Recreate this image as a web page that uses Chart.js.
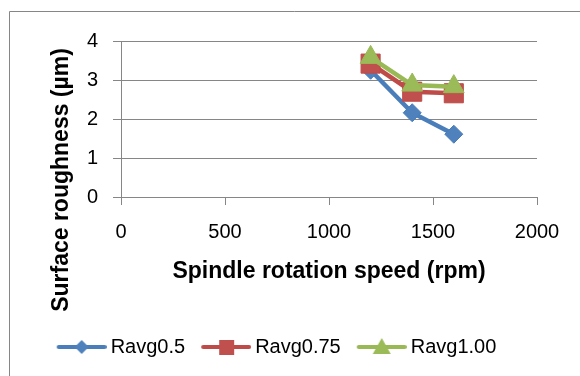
<!DOCTYPE html>
<html>
<head>
<meta charset="utf-8">
<script src="https://cdn.jsdelivr.net/npm/chart.js@4.4.1/dist/chart.umd.min.js"></script>
<style>
  html, body { margin: 0; padding: 0; background: #fff; }
</style>
</head>
<body>
<canvas id="grafico" width="580" height="376"></canvas>
<script>
// Dados
const rotacoes = [1200, 1400, 1600];
const ravg05 = [3.25, 2.16, 1.61];
const ravg075 = [3.42, 2.70, 2.66];
const ravg100 = [3.58, 2.87, 2.83];
const nomesSeries = ["Ravg0.5", "Ravg0.75", "Ravg1.00"];
const ticksX = [0, 500, 1000, 1500, 2000];
const ticksY = [0, 1, 2, 3, 4];
const tituloX = "Spindle rotation speed (rpm)";
const tituloY = "Surface roughness (µm)";

const corGrade = "#868686";
const fonte = "'Liberation Sans', Arial, sans-serif";
Chart.defaults.font.family = fonte;
Chart.defaults.color = "#000";

// Ícone da legenda: linha + marcador
function iconeLegenda(corLinha, corMarcador, estilo) {
  const c = document.createElement("canvas");
  c.width = 62;
  c.height = 26;
  const g = c.getContext("2d");
  g.strokeStyle = corLinha;
  g.lineWidth = 4;
  g.lineCap = "round";
  g.beginPath();
  g.moveTo(14, 13);
  g.lineTo(60, 13);
  g.stroke();
  g.fillStyle = corMarcador;
  g.beginPath();
  if (estilo === "rectRot") {
    g.moveTo(37, 6); g.lineTo(44, 13); g.lineTo(37, 20); g.lineTo(30, 13);
  } else if (estilo === "rect") {
    g.rect(30, 6, 15, 15);
  } else {
    g.moveTo(37, 4); g.lineTo(46, 20); g.lineTo(28, 20);
  }
  g.closePath();
  g.fill();
  return c;
}

function pontos(valores) {
  return rotacoes.map((x, i) => ({ x: x, y: valores[i] }));
}

const series = [
  { nome: nomesSeries[0], valores: ravg05, linha: "#4A7EBB", marcador: "#4F81BD", estilo: "rectRot", raio: 9, ordem: 3 },
  { nome: nomesSeries[1], valores: ravg075, linha: "#BE4B48", marcador: "#C0504D", estilo: "rect", raio: 13.5, ordem: 2 },
  { nome: nomesSeries[2], valores: ravg100, linha: "#98B954", marcador: "#9BBB59", estilo: "triangle", raio: 12, ordem: 1 },
];

const decoracao = {
  id: "decoracao",
  beforeDraw(chart) {
    const g = chart.ctx;
    g.save();
    g.fillStyle = "#fff";
    g.fillRect(0, 0, chart.width, chart.height);
    g.strokeStyle = corGrade;
    g.lineWidth = 1;
    g.beginPath();
    g.moveTo(9.5, chart.height);
    g.lineTo(9.5, 11.5);
    g.lineTo(chart.width, 11.5);
    g.stroke();
    g.restore();
  },
  afterDraw(chart) {
    // título do eixo Y desenhado à mão (centralizado como no Excel)
    const g = chart.ctx;
    g.save();
    g.translate(62, 180);
    g.rotate(-Math.PI / 2);
    g.font = "bold 23px " + fonte;
    g.fillStyle = "#000";
    g.textAlign = "center";
    g.textBaseline = "middle";
    g.fillText(tituloY, 0, 0);
    g.restore();
  },
};

new Chart(document.getElementById("grafico"), {
  type: "line",
  data: {
    datasets: series.map((s) => ({
      label: s.nome,
      data: pontos(s.valores),
      borderColor: s.linha,
      backgroundColor: s.marcador,
      borderWidth: 4.5,
      pointStyle: s.estilo,
      pointRadius: s.raio,
      pointHoverRadius: s.raio,
      pointBackgroundColor: s.marcador,
      pointBorderColor: s.linha,
      pointBorderWidth: 1,
      tension: 0,
      order: s.ordem,
      clip: false,
    })),
  },
  options: {
    responsive: false,
    animation: false,
    events: [],
    layout: { padding: { left: 10, right: 43, top: 41, bottom: 9 } },
    plugins: {
      tooltip: { enabled: false },
      legend: {
        position: "bottom",
        labels: {
          usePointStyle: true,
          pointStyleWidth: 50,
          padding: 10,
          font: { size: 20 },
          color: "#000",
          generateLabels: (chart) =>
            chart.data.datasets.map((d, i) => ({
              text: d.label,
              pointStyle: iconeLegenda(series[i].linha, series[i].marcador, series[i].estilo),
              fillStyle: series[i].marcador,
              strokeStyle: series[i].linha,
              lineWidth: 0,
              hidden: false,
              datasetIndex: i,
              fontColor: "#000",
            })),
        },
      },
    },
    scales: {
      x: {
        type: "linear",
        min: ticksX[0],
        max: ticksX[ticksX.length - 1],
        afterFit: (scale) => { scale.height = 130; },
        afterBuildTicks: (scale) => { scale.ticks = ticksX.map((v) => ({ value: v })); },
        ticks: { font: { size: 20 }, color: "#000", padding: 15, maxRotation: 0, callback: (v) => String(v) },
        grid: { drawOnChartArea: false, drawTicks: true, tickLength: 8, color: corGrade },
        border: { color: corGrade, width: 1 },
        title: {
          display: true,
          text: tituloX,
          font: { size: 23, weight: "bold" },
          color: "#000",
          padding: { top: 0, bottom: 42 },
        },
      },
      y: {
        min: ticksY[0],
        max: ticksY[ticksY.length - 1],
        afterFit: (scale) => { scale.width = 111; },
        afterBuildTicks: (scale) => { scale.ticks = ticksY.map((v) => ({ value: v })); },
        ticks: { font: { size: 20 }, color: "#000", padding: 15, callback: (v) => String(v) },
        grid: { color: corGrade, tickLength: 8, drawTicks: true },
        border: { color: corGrade, width: 1 },
      },
    },
  },
  plugins: [decoracao],
});
</script>
</body>
</html>
